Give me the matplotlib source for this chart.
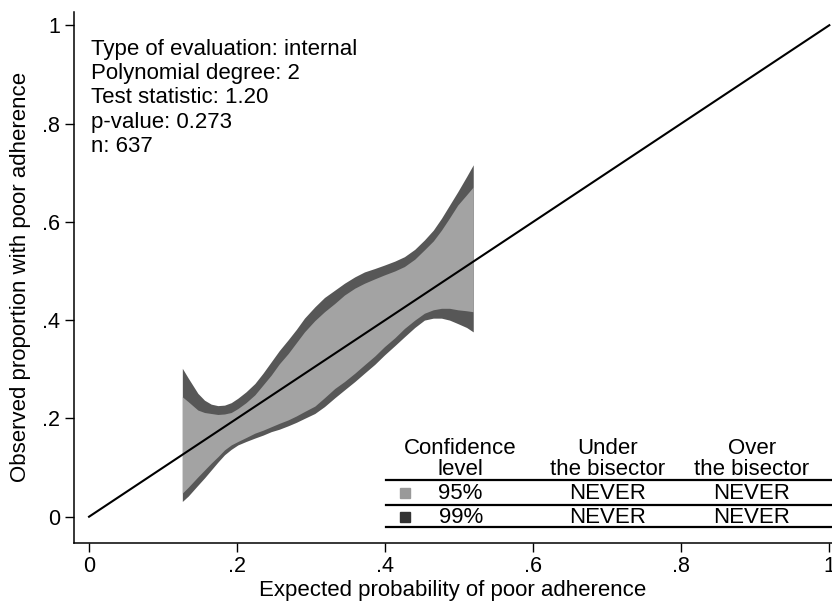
import matplotlib
matplotlib.use("Agg")
import matplotlib.pyplot as plt

plt.rcParams['font.family'] = ['Liberation Sans', 'DejaVu Sans']

# calibration belt
x_belt = [0.126, 0.134, 0.147, 0.156, 0.165, 0.174, 0.183, 0.192, 0.201, 0.212,
          0.224, 0.235, 0.246, 0.257, 0.269, 0.280, 0.291, 0.305, 0.318, 0.332,
          0.345, 0.359, 0.372, 0.386, 0.399, 0.413, 0.426, 0.440, 0.453, 0.465,
          0.476, 0.487, 0.498, 0.510, 0.519]
up99 = [0.302, 0.282, 0.251, 0.237, 0.229, 0.226, 0.227, 0.232, 0.241, 0.254,
        0.271, 0.292, 0.315, 0.338, 0.360, 0.381, 0.404, 0.427, 0.446, 0.461,
        0.475, 0.488, 0.498, 0.505, 0.512, 0.520, 0.529, 0.544, 0.563, 0.583,
        0.607, 0.634, 0.661, 0.692, 0.716]
up95 = [0.244, 0.234, 0.217, 0.212, 0.210, 0.208, 0.209, 0.212, 0.220, 0.232,
        0.248, 0.268, 0.288, 0.311, 0.332, 0.354, 0.376, 0.399, 0.417, 0.434,
        0.451, 0.465, 0.475, 0.484, 0.492, 0.500, 0.509, 0.524, 0.543, 0.561,
        0.583, 0.608, 0.634, 0.655, 0.671]
lo95 = [0.048, 0.060, 0.081, 0.095, 0.109, 0.122, 0.136, 0.146, 0.153, 0.161,
        0.170, 0.176, 0.183, 0.190, 0.197, 0.205, 0.214, 0.225, 0.242, 0.261,
        0.275, 0.292, 0.309, 0.327, 0.346, 0.364, 0.383, 0.400, 0.414, 0.421,
        0.424, 0.424, 0.421, 0.419, 0.417]
lo99 = [0.031, 0.042, 0.064, 0.079, 0.095, 0.111, 0.126, 0.137, 0.146, 0.153,
        0.160, 0.166, 0.173, 0.178, 0.185, 0.192, 0.200, 0.210, 0.224, 0.242,
        0.258, 0.275, 0.292, 0.310, 0.329, 0.348, 0.366, 0.385, 0.400, 0.404,
        0.404, 0.400, 0.393, 0.385, 0.376]

bisector = [0, 1]
ticks = [0, 0.2, 0.4, 0.6, 0.8, 1]
tick_labels = ["0", ".2", ".4", ".6", ".8", "1"]

info_lines = ["Type of evaluation: internal", "Polynomial degree: 2",
              "Test statistic: 1.20", "p-value: 0.273", "n: 637"]

tab_header = ["Confidence\nlevel", "Under\nthe bisector", "Over\nthe bisector"]
tab_levels = ["95%", "99%"]
tab_under = ["NEVER", "NEVER"]
tab_over = ["NEVER", "NEVER"]
lvl_colors = ["#999999", "#333333"]

fig = plt.figure(figsize=(8.32, 6.04), dpi=100)
ax = fig.add_axes([73.5 / 832, 1 - 543 / 604, 1 - 73.5 / 832, (543 - 11.7) / 604])

ax.fill_between(x_belt, lo99, up99, color="#575757", lw=0)
ax.fill_between(x_belt, lo95, up95, color="#a3a3a3", lw=0)
ax.plot(bisector, bisector, color="black", lw=1.5)

ax.set_xlim(-0.021, 1.0036)
ax.set_ylim(-0.0535, 1.0275)
ax.set_xticks(ticks)
ax.set_xticklabels(tick_labels)
ax.set_yticks(ticks)
ax.set_yticklabels(tick_labels)
ax.tick_params(labelsize=15.5, length=6.5, width=1, pad=3)
for s in ["top", "right"]:
    ax.spines[s].set_visible(False)
for s in ["left", "bottom"]:
    ax.spines[s].set_linewidth(1.1)

ax.set_xlabel("Expected probability of poor adherence", fontsize=16, labelpad=2)
ax.set_ylabel("Observed proportion with poor adherence", fontsize=16, labelpad=8)

ax.text(0.002, 0.972, "\n".join(info_lines), fontsize=16, va="top", ha="left")

# table in the lower right corner
col_x = [0.502, 0.700, 0.895]
for cx, head in zip(col_x, tab_header):
    ax.text(cx, 0.117, head, fontsize=16, ha="center", va="center",
            multialignment="center", linespacing=1.0)
for yl in [0.0747, 0.0238, -0.0209]:
    ax.axhline(yl, xmin=0.412, xmax=1, color="black", lw=1.6, clip_on=False)
row_y = [0.0482, -0.0006]
for ry, lvl, un, ov, c in zip(row_y, tab_levels, tab_under, tab_over, lvl_colors):
    ax.plot(0.4265, ry, marker="s", ms=7, color=c, mec=c)
    ax.text(col_x[0], ry, lvl, fontsize=16, ha="center", va="center")
    ax.text(col_x[1], ry, un, fontsize=16, ha="center", va="center")
    ax.text(col_x[2], ry, ov, fontsize=16, ha="center", va="center")

fig.savefig("out.png", dpi=100)
